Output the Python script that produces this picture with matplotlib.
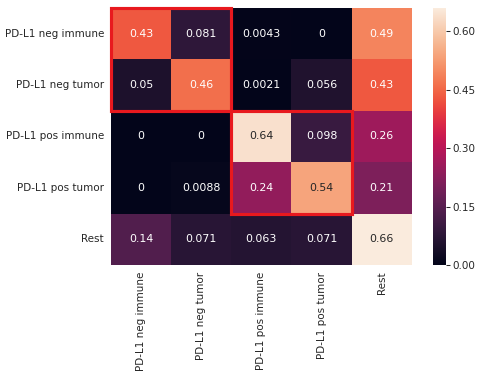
import matplotlib
matplotlib.use("Agg")
import matplotlib.pyplot as plt
import seaborn as sns
import numpy as np
from matplotlib.patches import Rectangle

labels = ["PD-L1 neg immune", "PD-L1 neg tumor", "PD-L1 pos immune", "PD-L1 pos tumor", "Rest"]
row_neg_immune = [0.43, 0.081, 0.0043, 0, 0.49]
row_neg_tumor = [0.05, 0.46, 0.0021, 0.056, 0.43]
row_pos_immune = [0, 0, 0.64, 0.098, 0.26]
row_pos_tumor = [0, 0.0088, 0.24, 0.54, 0.21]
row_rest = [0.14, 0.071, 0.063, 0.071, 0.66]
cbar_ticks = [0.0, 0.15, 0.30, 0.45, 0.60]

data = np.array([row_neg_immune, row_neg_tumor, row_pos_immune, row_pos_tumor, row_rest])

sns.set_theme()
fig = plt.figure(figsize=(6.4, 5.04), dpi=75)
ax = fig.add_axes([0.231, 0.299, 0.627, 0.680])
cax = fig.add_axes([0.902, 0.299, 0.027, 0.680])

sns.heatmap(data, ax=ax, cbar_ax=cax, annot=True, cmap="rocket",
            xticklabels=labels, yticklabels=labels,
            annot_kws={"fontsize": 10.5})
ax.tick_params(axis="both", length=0, pad=6.5, labelsize=10, colors="#262626")
plt.setp(ax.get_xticklabels(), rotation=90)
plt.setp(ax.get_yticklabels(), rotation=0)

for (x, y) in [(0, 0), (2, 2)]:
    ax.add_patch(Rectangle((x, y), 2, 2, fill=False, edgecolor="#e8191e",
                           lw=3, clip_on=False, zorder=5))

cax.set_yticks(cbar_ticks)
cax.set_yticklabels([f"{t:.2f}" for t in cbar_ticks])
cax.tick_params(axis="y", length=4, width=1, pad=2, labelsize=10, colors="#262626", right=True)

fig.savefig("out.png", dpi=75)
